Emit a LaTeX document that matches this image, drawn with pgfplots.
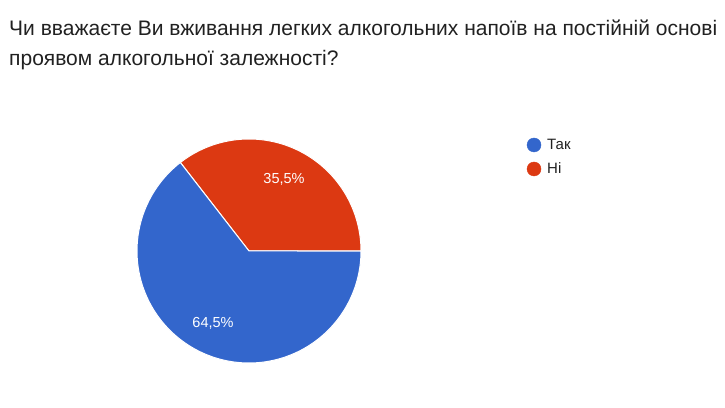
\documentclass[border=0pt]{standalone}
\usepackage{pgfplots}
\pgfplotsset{compat=1.18}
\usepackage{fontspec}
\setmainfont{Liberation Sans}
\definecolor{pieblue}{HTML}{3366CC}
\definecolor{piered}{HTML}{DC3912}
\definecolor{titlecol}{HTML}{212121}
\definecolor{legcol}{HTML}{222222}
% values (percent)
\def\valTak{64.5}
\def\valNi{35.5}
\pgfmathsetmacro{\angNi}{\valNi*3.6}
\begin{document}
\begin{tikzpicture}
\fill[white] (0,0) rectangle (725pt,407pt);
\begin{axis}[
  at={(0,0)}, anchor=south west,
  width=725pt, height=407pt, scale only axis,
  xmin=0, xmax=725, ymin=0, ymax=407,
  hide axis, clip=false,
]
% red slice (Ні): from 0 deg counterclockwise
\addplot[fill=piered, draw=white, line width=1pt, domain=0:\angNi, samples=80, variable=\t]
  ({249+112*cos(t)},{156+112*sin(t)}) -- (axis cs:249,156) -- cycle;
% blue slice (Так)
\addplot[fill=pieblue, draw=white, line width=1pt, domain=\angNi:360, samples=120, variable=\t]
  ({249+112*cos(t)},{156+112*sin(t)}) -- (axis cs:249,156) -- cycle;
% legend markers
\addplot[only marks, mark=*, mark size=7pt, color=pieblue] coordinates {(534,262)};
\addplot[only marks, mark=*, mark size=7pt, color=piered] coordinates {(534,238)};
% texts
\node[anchor=base west, font=\fontsize{21}{23}\selectfont, text=titlecol, inner sep=0pt] at (axis cs:9,371) {Чи вважаєте Ви вживання легких алкогольних напоїв на постійній основі};
\node[anchor=base west, font=\fontsize{21}{23}\selectfont, text=titlecol, inner sep=0pt] at (axis cs:9,341) {проявом алкогольної залежності?};
\node[anchor=base west, font=\fontsize{15}{16}\selectfont, text=legcol, inner sep=0pt] at (axis cs:547,257) {Так};
\node[anchor=base west, font=\fontsize{15}{16}\selectfont, text=legcol, inner sep=0pt] at (axis cs:547,233) {Ні};
\node[anchor=base, font=\fontsize{14.5}{16}\selectfont, text=white, inner sep=0pt] at (axis cs:284,223) {35,5\%};
\node[anchor=base, font=\fontsize{14.5}{16}\selectfont, text=white, inner sep=0pt] at (axis cs:213,80) {64,5\%};
\end{axis}
\useasboundingbox (0,0) rectangle (725pt,407pt);
\end{tikzpicture}
\end{document}
